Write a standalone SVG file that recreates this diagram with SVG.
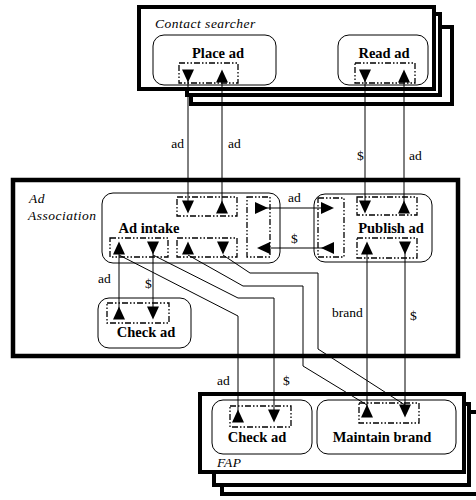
<svg xmlns="http://www.w3.org/2000/svg" xmlns:xlink="http://www.w3.org/1999/xlink" width="476" height="500" viewBox="0 0 476 500">
<style>
.frame{fill:#fff;stroke:#000;stroke-width:4}
.box{fill:none;stroke:#000;stroke-width:1}
.port{fill:none;stroke:#000;stroke-width:1.3;stroke-dasharray:6 2 1.5 2 1.5 2}
.ln{fill:none;stroke:#000;stroke-width:1}
text{font-family:'Liberation Serif','Times New Roman','DejaVu Serif',serif}
.it{font-style:italic;font-size:13.5px;letter-spacing:0.5px}
.bd{font-weight:bold;font-size:14.5px;text-anchor:middle}
.lb{font-size:13.5px}
</style>
<defs>
<path id="tri" d="M-6,-6.5 L6,-6.5 L0,6.5 Z" fill="#000"/>
</defs>
<rect width="476" height="500" fill="#fff"/>

<g id="contact-searcher">
<rect class="frame" x="191" y="27" width="261" height="77"/>
<rect class="frame" x="187" y="14" width="253" height="81"/>
<rect class="frame" x="139" y="7" width="295" height="82"/>
<text class="it" x="155" y="28" font-family="Liberation Serif, serif">Contact searcher</text>
</g>
<g id="ad-association">
<rect class="frame" x="13" y="180" width="445" height="176" style="stroke-width:4.5"/>
<text class="it" x="29" y="203" font-family="Liberation Serif, serif">Ad</text>
<text class="it" x="28" y="220" font-family="Liberation Serif, serif">Association</text>
</g>
<g id="fap">
<rect class="frame" x="222" y="412" width="262" height="82"/>
<rect class="frame" x="214" y="404" width="255" height="81"/>
<rect class="frame" x="200" y="394" width="264" height="78"/>
<text class="it" x="217" y="467" font-family="Liberation Serif, serif">FAP</text>
</g>

<g id="place-ad">
<rect class="box" x="153" y="35" width="123" height="50" rx="11"/>
<text class="bd" x="218" y="58" font-family="Liberation Serif, serif">Place ad</text>
<rect class="port" x="179" y="63" width="59" height="20"/>
</g>
<g id="read-ad">
<rect class="box" x="338" y="35" width="90" height="50" rx="11"/>
<text class="bd" x="384" y="58" font-family="Liberation Serif, serif">Read ad</text>
<rect class="port" x="355" y="63" width="60" height="20"/>
</g>
<g id="ad-intake">
<rect class="box" x="102" y="193" width="178" height="70" rx="11"/>
<text class="bd" x="149" y="233" font-family="Liberation Serif, serif">Ad intake</text>
<rect class="port" x="177" y="197" width="60" height="19"/>
<rect class="port" x="247" y="197" width="23" height="60"/>
<rect class="port" x="110" y="238" width="58" height="19"/>
<rect class="port" x="177" y="238" width="60" height="19"/>
</g>
<g id="publish-ad">
<rect class="box" x="314" y="194" width="118" height="68" rx="11"/>
<text class="bd" x="391" y="233" font-family="Liberation Serif, serif">Publish ad</text>
<rect class="port" x="318" y="198" width="26" height="59"/>
<rect class="port" x="357" y="197" width="60" height="18"/>
<rect class="port" x="357" y="238" width="60" height="20"/>
</g>
<g id="check-ad-aa">
<rect class="box" x="98" y="298" width="93" height="50" rx="11"/>
<text class="bd" x="146" y="337" font-family="Liberation Serif, serif">Check ad</text>
<rect class="port" x="107" y="303" width="62" height="20"/>
</g>
<g id="check-ad-fap">
<rect class="box" x="212" y="400" width="100" height="54" rx="11"/>
<text class="bd" x="257" y="442" font-family="Liberation Serif, serif">Check ad</text>
<rect class="port" x="230" y="406" width="61" height="21"/>
</g>
<g id="maintain-brand">
<rect class="box" x="317" y="400" width="139" height="54" rx="11"/>
<text class="bd" x="382" y="442" font-family="Liberation Serif, serif">Maintain brand</text>
<rect class="port" x="359" y="403" width="60" height="20"/>
</g>

<g id="connectors">
<path class="ln" d="M188,76 V207"/>
<path class="ln" d="M222,76 V207"/>
<path class="ln" d="M365,76 V207"/>
<path class="ln" d="M404,76 V207"/>
<path class="ln" d="M261.5,208 H327.5"/>
<path class="ln" d="M263.5,248 H327.5"/>
<path class="ln" d="M119,248 V313"/>
<path class="ln" d="M153,248 V313"/>
<path class="ln" d="M367,248 V411"/>
<path class="ln" d="M405,248 V411"/>
<path class="ln" d="M119,255 L238,316 V416"/>
<path class="ln" d="M153,255 L238,298 H274 V416"/>
<path class="ln" d="M188,255 L243,286 H303 V366 L367,405"/>
<path class="ln" d="M223,255 L250,273 H318 V349 L405,405"/>
<use xlink:href="#tri" transform="translate(188,76)"/>
<use xlink:href="#tri" transform="translate(222,76) rotate(180)"/>
<use xlink:href="#tri" transform="translate(365,76)"/>
<use xlink:href="#tri" transform="translate(404,76) rotate(180)"/>
<use xlink:href="#tri" transform="translate(188,207)"/>
<use xlink:href="#tri" transform="translate(222,207) rotate(180)"/>
<use xlink:href="#tri" transform="translate(365,207)"/>
<use xlink:href="#tri" transform="translate(404,207) rotate(180)"/>
<use xlink:href="#tri" transform="translate(261.5,208) rotate(-90)"/>
<use xlink:href="#tri" transform="translate(263.5,248) rotate(90)"/>
<use xlink:href="#tri" transform="translate(327.5,208) rotate(-90)"/>
<use xlink:href="#tri" transform="translate(327.5,248) rotate(90)"/>
<use xlink:href="#tri" transform="translate(119,248) rotate(180)"/>
<use xlink:href="#tri" transform="translate(153,248)"/>
<use xlink:href="#tri" transform="translate(188,248) rotate(180)"/>
<use xlink:href="#tri" transform="translate(223,248)"/>
<use xlink:href="#tri" transform="translate(367,248) rotate(180)"/>
<use xlink:href="#tri" transform="translate(405,248)"/>
<use xlink:href="#tri" transform="translate(119,313) rotate(180)"/>
<use xlink:href="#tri" transform="translate(153,313)"/>
<use xlink:href="#tri" transform="translate(238,416) rotate(180)"/>
<use xlink:href="#tri" transform="translate(274,416)"/>
<use xlink:href="#tri" transform="translate(367,411) rotate(180)"/>
<use xlink:href="#tri" transform="translate(405,411)"/>
<text class="lb" x="184" y="148" text-anchor="end" font-family="Liberation Serif, serif">ad</text>
<text class="lb" x="228" y="148" font-family="Liberation Serif, serif">ad</text>
<text class="lb" x="357" y="160" font-family="Liberation Serif, serif">$</text>
<text class="lb" x="409" y="160" font-family="Liberation Serif, serif">ad</text>
<text class="lb" x="288" y="202" font-family="Liberation Serif, serif">ad</text>
<text class="lb" x="291" y="243" font-family="Liberation Serif, serif">$</text>
<text class="lb" x="98" y="283" font-family="Liberation Serif, serif">ad</text>
<text class="lb" x="145" y="288" font-family="Liberation Serif, serif">$</text>
<text class="lb" x="332" y="317" font-family="Liberation Serif, serif">brand</text>
<text class="lb" x="410" y="320" font-family="Liberation Serif, serif">$</text>
<text class="lb" x="217" y="385" font-family="Liberation Serif, serif">ad</text>
<text class="lb" x="283" y="385" font-family="Liberation Serif, serif">$</text>
</g>
</svg>
